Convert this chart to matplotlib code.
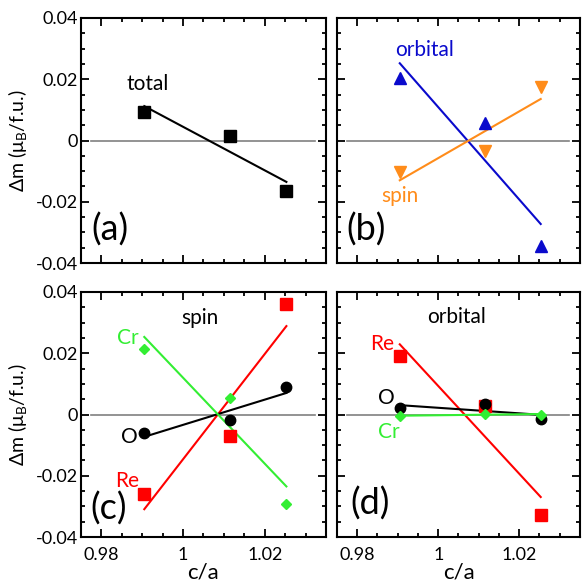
import numpy as np
import matplotlib
matplotlib.use("Agg")
import matplotlib.pyplot as plt

plt.rcParams['font.family'] = ['Lato', 'DejaVu Sans']
plt.rcParams['mathtext.fontset'] = 'custom'
plt.rcParams['mathtext.rm'] = 'Lato'
plt.rcParams['mathtext.it'] = 'Lato:italic'

# c/a values of the three structures
ca = [0.9905, 1.0115, 1.0253]

# (a) total moment change
total = [0.0092, 0.0014, -0.0166]
# (b) spin / orbital split
orb_b = [0.0204, 0.0057, -0.0346]
spin_b = [-0.0104, -0.0035, 0.0175]
# (c) spin per element
re_spin = [-0.0261, -0.0070, 0.0362]
o_spin = [-0.0060, -0.0019, 0.0090]
cr_spin = [0.0215, 0.0055, -0.0293]
# (d) orbital per element
re_orb = [0.0190, 0.0027, -0.0329]
o_orb = [0.0022, 0.0033, -0.0014]
cr_orb = [-0.0005, 0.0002, 0.0000]

BLUE = '#0a0acc'
ORANGE = '#ff8c1a'
RED = '#ff0000'
GREEN = '#33ee33'

fig = plt.figure(figsize=(5.82, 5.86), dpi=100)
W, H = 582, 586


def make_ax(x0, y0, x1, y1):
    return fig.add_axes([x0 / W, 1 - y1 / H, (x1 - x0) / W, (y1 - y0) / H])


ax_a = make_ax(81, 18, 326, 263)
ax_b = make_ax(337, 18, 580, 263)
ax_c = make_ax(81, 292, 326, 537)
ax_d = make_ax(337, 292, 580, 537)


def series(ax, y, color, marker, ms):
    k, b = np.polyfit(ca, y, 1)
    xx = np.array([ca[0], ca[-1]])
    ax.plot(xx, k * xx + b, color=color, lw=1.5, zorder=2)
    ax.plot(ca, y, ls='none', marker=marker, ms=ms, color=color,
            mec=color, zorder=3)


for ax in (ax_a, ax_b, ax_c, ax_d):
    ax.set_xlim(0.975, 1.035)
    ax.set_ylim(-0.04, 0.04)
    ax.set_xticks([0.98, 1.0, 1.02])
    ax.set_xticks(np.arange(0.975, 1.0351, 0.005), minor=True)
    ax.set_yticks([-0.04, -0.02, 0, 0.02, 0.04])
    ax.set_yticks(np.arange(-0.04, 0.0401, 0.005), minor=True)
    ax.tick_params(which='both', direction='in', top=True, right=True,
                   width=1.3, labelsize=13)
    ax.tick_params(which='major', length=6)
    ax.tick_params(which='minor', length=3)
    ax.tick_params(axis='y', pad=2)
    ax.tick_params(axis='x', pad=7)
    for s in ax.spines.values():
        s.set_linewidth(1.5)
    ax.axhline(0, xmin=0.04, xmax=0.955, color='#808080', lw=1.2, zorder=1)

ax_a.set_yticklabels(['-0.04', '-0.02', '0', '0.02', '0.04'])
ax_c.set_yticklabels(['-0.04', '-0.02', '0', '0.02', '0.04'])
for ax in (ax_b, ax_d):
    ax.set_yticklabels([])
for ax in (ax_a, ax_b):
    ax.set_xticklabels([])
for ax in (ax_c, ax_d):
    ax.set_xticklabels(['0.98', '1', '1.02'])
    ax.set_xlabel('c/a', fontsize=16, labelpad=0)
for ax in (ax_a, ax_c):
    ax.set_ylabel('Δm (μ$_\\mathregular{B}$/f.u.)', fontsize=14, labelpad=5)

# (a)
series(ax_a, total, 'black', 's', 8.5)
ax_a.text(0.9913, 0.0183, 'total', fontsize=15, ha='center', va='center')
ax_a.text(0.118, 0.135, '(a)', transform=ax_a.transAxes, fontsize=26,
          ha='center', va='center')

# (b)
series(ax_b, orb_b, BLUE, '^', 8)
series(ax_b, spin_b, ORANGE, 'v', 8)
ax_b.text(0.9967, 0.0295, 'orbital', color=BLUE, fontsize=15, ha='center', va='center')
ax_b.text(0.9906, -0.0182, 'spin', color=ORANGE, fontsize=15, ha='center', va='center')
ax_b.text(0.119, 0.135, '(b)', transform=ax_b.transAxes, fontsize=26,
          ha='center', va='center')

# (c)
series(ax_c, re_spin, RED, 's', 8.5)
series(ax_c, o_spin, 'black', 'o', 7.5)
series(ax_c, cr_spin, GREEN, 'D', 5.5)
ax_c.text(1.0041, 0.0316, 'spin', fontsize=15, ha='center', va='center')
ax_c.text(0.9865, 0.0251, 'Cr', color=GREEN, fontsize=15, ha='center', va='center')
ax_c.text(0.9869, -0.0073, 'O', fontsize=15, ha='center', va='center')
ax_c.text(0.9864, -0.0217, 'Re', color=RED, fontsize=15, ha='center', va='center')
ax_c.text(0.112, 0.115, '(c)', transform=ax_c.transAxes, fontsize=26,
          ha='center', va='center')

# (d)
series(ax_d, re_orb, RED, 's', 8.5)
series(ax_d, o_orb, 'black', 'o', 7.5)
series(ax_d, cr_orb, GREEN, 'D', 5.5)
ax_d.text(1.0045, 0.0318, 'orbital', fontsize=15, ha='center', va='center')
ax_d.text(0.9861, 0.0229, 'Re', color=RED, fontsize=15, ha='center', va='center')
ax_d.text(0.9871, 0.0055, 'O', fontsize=15, ha='center', va='center')
ax_d.text(0.9877, -0.0057, 'Cr', color=GREEN, fontsize=15, ha='center', va='center')
ax_d.text(0.135, 0.136, '(d)', transform=ax_d.transAxes, fontsize=26,
          ha='center', va='center')

fig.savefig('out.png', dpi=100)
